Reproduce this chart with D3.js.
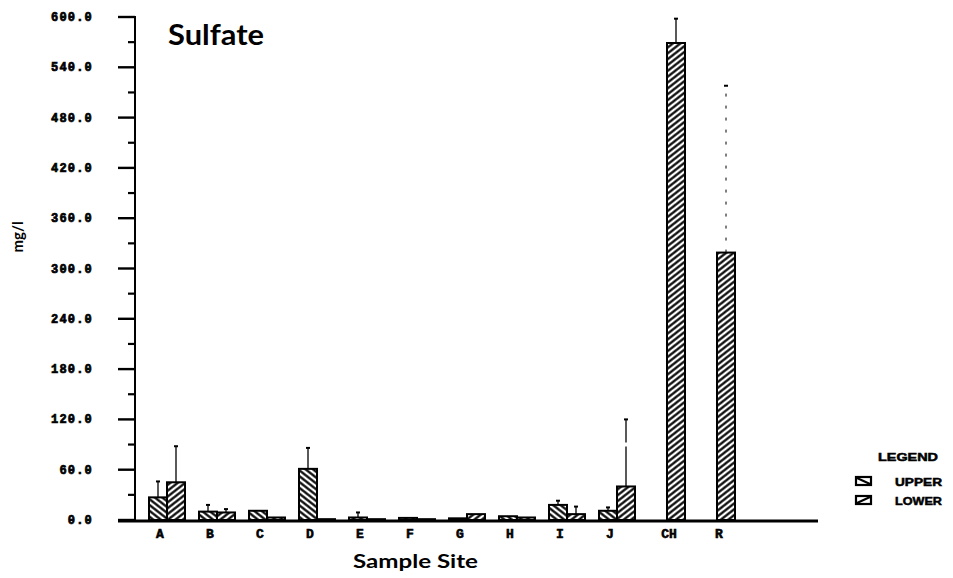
<!DOCTYPE html>
<html>
<head>
<meta charset="utf-8">
<script src="https://cdn.jsdelivr.net/npm/d3@7"></script>
<style>
  html, body { margin: 0; padding: 0; background: #fff; }
  svg { display: block; }
  .tick-label { font-family: "Liberation Mono", "DejaVu Sans Mono", monospace; font-weight: bold; font-size: 12px; fill: #000; stroke: #000; stroke-width: 0.7px; }
  .cat-label { font-family: "Liberation Mono", "DejaVu Sans Mono", monospace; font-weight: bold; font-size: 13px; fill: #000; stroke: #000; stroke-width: 0.6px; }
  .title { font-family: Lato, "DejaVu Sans", sans-serif; font-weight: bold; fill: #000; }
  .legend-text { font-family: "Liberation Sans", Arial, sans-serif; font-weight: bold; font-size: 11px; fill: #000; stroke: #000; stroke-width: 0.5px; }
</style>
</head>
<body>
<svg id="chart" width="953" height="578"></svg>
<script>
// Sulfate concentration (mg/l) at each sample site, upper and lower readings
const sites = ["A", "B", "C", "D", "E", "F", "G", "H", "I", "J", "CH", "R"];
const upperMean = [27, 10, 11, 61, 3, 2.5, 2, 4.5, 18, 11, null, null];
const lowerMean = [45, 9, 3, 1, 1, 1, 7, 3, 7, 40, 569, 319];
const upperErrTop = [46, 18, null, 86, 9, null, null, null, 23, 15, null, null];
const lowerErrTop = [88, 13, null, null, null, null, null, null, 16, 120, 598, 518];
const yTicks = [0, 60, 120, 180, 240, 300, 360, 420, 480, 540, 600];
const seriesNames = ["UPPER", "LOWER"];

const svg = d3.select("#chart");

const yAxisX = 135, baseY = 520, topY = 17;
const y = d3.scaleLinear().domain([0, 600]).range([baseY, topY]);

// composite sites CH and R sit a little further out
const compositeGap = 9;
const band = d3.scaleBand().domain(sites).range([142, 742]).padding(0);
const groupCenter = s => band(s) + band.bandwidth() / 2 + (s === "CH" || s === "R" ? compositeGap : 0);
const barW = 18;

// hatch patterns
const defs = svg.append("defs");
function hatch(id, angle) {
  const p = defs.append("pattern")
    .attr("id", id)
    .attr("patternUnits", "userSpaceOnUse")
    .attr("width", 4.6).attr("height", 4.6)
    .attr("patternTransform", `rotate(${angle})`);
  p.append("rect").attr("width", 4.6).attr("height", 4.6).attr("fill", "#fff");
  p.append("line").attr("x1", -1).attr("x2", 6).attr("y1", 2.3).attr("y2", 2.3)
    .attr("stroke", "#000").attr("stroke-width", 2.2);
}
hatch("hatch-upper", 38);
hatch("hatch-lower", -38);
const fills = { UPPER: "url(#hatch-upper)", LOWER: "url(#hatch-lower)" };

// build bar records
const bars = [];
sites.forEach((s, i) => {
  const c = groupCenter(s);
  const u = upperMean[i], l = lowerMean[i];
  if (u != null && l != null) {
    bars.push({ site: s, series: "UPPER", value: u, err: upperErrTop[i], x0: c - barW });
    bars.push({ site: s, series: "LOWER", value: l, err: lowerErrTop[i], x0: c });
  } else if (l != null) {
    bars.push({ site: s, series: "LOWER", value: l, err: lowerErrTop[i], x0: c - barW / 2 });
  } else if (u != null) {
    bars.push({ site: s, series: "UPPER", value: u, err: upperErrTop[i], x0: c - barW / 2 });
  }
});

// error bars (drawn first, from bar top upward)
const errG = svg.append("g");
bars.filter(d => d.err != null).forEach(d => {
  const cx = d.x0 + barW / 2;
  const dashed = d.site === "J" && d.series === "LOWER";
  errG.append("line")
    .attr("x1", cx).attr("x2", cx)
    .attr("y1", y(d.value)).attr("y2", y(d.err))
    .attr("stroke", "#000")
    .attr("stroke-width", d.site === "R" ? 1 : 1.3)
    .attr("stroke-dasharray", d.site === "R" ? "3,9" : dashed ? "40,4" : null);
  errG.append("line")
    .attr("x1", cx - 2).attr("x2", cx + 2)
    .attr("y1", y(d.err)).attr("y2", y(d.err))
    .attr("stroke", "#000").attr("stroke-width", 2);
});

// bars
svg.append("g").selectAll("rect")
  .data(bars)
  .join("rect")
  .attr("x", d => d.x0)
  .attr("y", d => y(d.value))
  .attr("width", barW)
  .attr("height", d => baseY - y(d.value))
  .attr("fill", d => fills[d.series])
  .attr("stroke", "#000")
  .attr("stroke-width", 2);

// y axis
const yAxis = svg.append("g");
yAxis.append("line")
  .attr("x1", yAxisX).attr("x2", yAxisX)
  .attr("y1", topY - 1).attr("y2", baseY + 1)
  .attr("stroke", "#000").attr("stroke-width", 2);
yTicks.forEach(t => {
  yAxis.append("line")
    .attr("x1", yAxisX - 17).attr("x2", yAxisX)
    .attr("y1", y(t)).attr("y2", y(t))
    .attr("stroke", "#000").attr("stroke-width", 2.4);
  yAxis.append("text")
    .attr("class", "tick-label")
    .attr("x", 93).attr("y", y(t) + 4)
    .attr("text-anchor", "end")
    .attr("letter-spacing", "1.2px")
    .text(d3.format(".1f")(t));
});
// minor ticks halfway between labelled ticks
yTicks.slice(0, -1).forEach(t => {
  const m = t + 30;
  yAxis.append("line")
    .attr("x1", yAxisX - 7).attr("x2", yAxisX)
    .attr("y1", y(m)).attr("y2", y(m))
    .attr("stroke", "#000").attr("stroke-width", 2.2);
});

// x axis
svg.append("line")
  .attr("x1", yAxisX - 17).attr("x2", 818)
  .attr("y1", baseY + 1).attr("y2", baseY + 1)
  .attr("stroke", "#000").attr("stroke-width", 3);

svg.append("g").selectAll("text")
  .data(sites)
  .join("text")
  .attr("class", "cat-label")
  .attr("x", d => groupCenter(d) - 7)
  .attr("y", 538)
  .attr("text-anchor", "middle")
  .text(d => d);

// titles
svg.append("text")
  .attr("class", "title")
  .attr("x", 168).attr("y", 45)
  .attr("font-size", 28)
  .attr("textLength", 96).attr("lengthAdjust", "spacingAndGlyphs")
  .text("Sulfate");

svg.append("text")
  .attr("class", "title")
  .attr("x", 353).attr("y", 568)
  .attr("font-size", 19)
  .attr("textLength", 125).attr("lengthAdjust", "spacingAndGlyphs")
  .text("Sample Site");

svg.append("text")
  .attr("class", "title")
  .attr("transform", "translate(23,237) rotate(-90)")
  .attr("text-anchor", "middle")
  .attr("font-size", 15)
  .text("mg/l");

// legend
const lg = svg.append("g");
lg.append("text").attr("class", "legend-text")
  .attr("x", 878).attr("y", 461)
  .attr("textLength", 60).attr("lengthAdjust", "spacingAndGlyphs")
  .text("LEGEND");
seriesNames.forEach((name, i) => {
  const yy = 477 + i * 19;
  lg.append("rect")
    .attr("x", 856).attr("y", yy)
    .attr("width", 15).attr("height", 8)
    .attr("fill", "#fff").attr("stroke", "#000").attr("stroke-width", 2.2);
  lg.append("line")
    .attr("x1", 857).attr("x2", 870)
    .attr("y1", name === "UPPER" ? yy + 1 : yy + 7)
    .attr("y2", name === "UPPER" ? yy + 7 : yy + 1)
    .attr("stroke", "#000").attr("stroke-width", 2);
  lg.append("text").attr("class", "legend-text")
    .attr("x", 895).attr("y", yy + 9)
    .attr("textLength", 47).attr("lengthAdjust", "spacingAndGlyphs")
    .text(name);
});
</script>
</body>
</html>
